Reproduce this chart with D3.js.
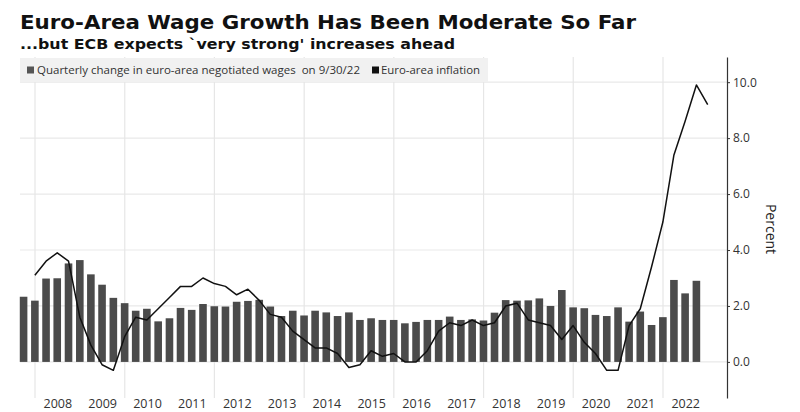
<!DOCTYPE html>
<html>
<head>
<meta charset="utf-8">
<script src="https://cdn.jsdelivr.net/npm/d3@7"></script>
<style>
  html, body { margin: 0; padding: 0; background: #fff; }
  svg { display: block; }
</style>
</head>
<body>
<svg id="chart" width="800" height="412"></svg>
<script>
// ---------------- DATA ----------------
const titleText = "Euro-Area Wage Growth Has Been Moderate So Far";
const subtitleText = "...but ECB expects `very strong' increases ahead";
const legendLabels = ["Quarterly change in euro-area negotiated wages  on 9/30/22", "Euro-area inflation"];

// Bars: quarter-end dates for negotiated wage growth
const wageDates = [
  "2007-09-30","2007-12-31",
  "2008-03-31","2008-06-30","2008-09-30","2008-12-31",
  "2009-03-31","2009-06-30","2009-09-30","2009-12-31",
  "2010-03-31","2010-06-30","2010-09-30","2010-12-31",
  "2011-03-31","2011-06-30","2011-09-30","2011-12-31",
  "2012-03-31","2012-06-30","2012-09-30","2012-12-31",
  "2013-03-31","2013-06-30","2013-09-30","2013-12-31",
  "2014-03-31","2014-06-30","2014-09-30","2014-12-31",
  "2015-03-31","2015-06-30","2015-09-30","2015-12-31",
  "2016-03-31","2016-06-30","2016-09-30","2016-12-31",
  "2017-03-31","2017-06-30","2017-09-30","2017-12-31",
  "2018-03-31","2018-06-30","2018-09-30","2018-12-31",
  "2019-03-31","2019-06-30","2019-09-30","2019-12-31",
  "2020-03-31","2020-06-30","2020-09-30","2020-12-31",
  "2021-03-31","2021-06-30","2021-09-30","2021-12-31",
  "2022-03-31","2022-06-30","2022-09-30"
];
const wageValues = [
  2.33, 2.19,
  2.98, 2.99, 3.52, 3.64,
  3.13, 2.76, 2.29, 2.10,
  1.83, 1.90, 1.45, 1.56,
  1.93, 1.86, 2.07, 1.99,
  1.98, 2.15, 2.18, 2.22,
  1.98, 1.64, 1.83, 1.66,
  1.83, 1.77, 1.64, 1.77,
  1.50, 1.56, 1.50, 1.50,
  1.38, 1.43, 1.50, 1.50,
  1.62, 1.50, 1.52, 1.48,
  1.76, 2.21, 2.19, 2.20,
  2.27, 2.00, 2.57, 1.95,
  1.92, 1.68, 1.64, 1.95,
  1.44, 1.80, 1.32, 1.60,
  2.93, 2.45, 2.90
];

// Line: euro-area inflation, quarter-end readings
const inflationDates = [
  "2007-12-31",
  "2008-03-31","2008-06-30","2008-09-30","2008-12-31",
  "2009-03-31","2009-06-30","2009-09-30","2009-12-31",
  "2010-03-31","2010-06-30","2010-09-30","2010-12-31",
  "2011-03-31","2011-06-30","2011-09-30","2011-12-31",
  "2012-03-31","2012-06-30","2012-09-30","2012-12-31",
  "2013-03-31","2013-06-30","2013-09-30","2013-12-31",
  "2014-03-31","2014-06-30","2014-09-30","2014-12-31",
  "2015-03-31","2015-06-30","2015-09-30","2015-12-31",
  "2016-03-31","2016-06-30","2016-09-30","2016-12-31",
  "2017-03-31","2017-06-30","2017-09-30","2017-12-31",
  "2018-03-31","2018-06-30","2018-09-30","2018-12-31",
  "2019-03-31","2019-06-30","2019-09-30","2019-12-31",
  "2020-03-31","2020-06-30","2020-09-30","2020-12-31",
  "2021-03-31","2021-06-30","2021-09-30","2021-12-31",
  "2022-03-31","2022-06-30","2022-09-30","2022-12-31"
];
const inflationValues = [
  3.1,
  3.6, 3.9, 3.6, 1.6,
  0.6, -0.1, -0.3, 0.9,
  1.6, 1.5, 1.9, 2.3,
  2.7, 2.7, 3.0, 2.8,
  2.7, 2.4, 2.6, 2.2,
  1.7, 1.6, 1.1, 0.8,
  0.5, 0.5, 0.3, -0.2,
  -0.1, 0.4, 0.2, 0.3,
  0.0, 0.0, 0.4, 1.1,
  1.4, 1.3, 1.5, 1.3,
  1.4, 2.0, 2.1, 1.5,
  1.4, 1.3, 0.8, 1.3,
  0.7, 0.3, -0.3, -0.3,
  1.3, 1.9, 3.4, 5.0,
  7.4, 8.6, 9.9, 9.2
];

const yearLabels = ["2008","2009","2010","2011","2012","2013","2014","2015",
                    "2016","2017","2018","2019","2020","2021","2022"];
const gridYears = ["2008","2010","2012","2014","2016","2018","2020","2022"];
const yTicks = [0, 2, 4, 6, 8, 10];
const yAxisTitle = "Percent";

// ---------------- DRAW ----------------
const svg = d3.select("#chart");
const parse = d3.timeParse("%Y-%m-%d");

const x = d3.scaleTime()
  .domain([parse("2008-01-01"), parse("2022-01-01")])
  .range([35, 663]);
const y = d3.scaleLinear()
  .domain([-1.29, 10.9])
  .range([398, 57]);

const plotLeft = 20, plotRight = 727;

// Title & subtitle
svg.append("text")
  .attr("x", 20).attr("y", 29)
  .attr("font-family", "DejaVu Sans, Verdana, sans-serif")
  .attr("font-weight", "bold").attr("font-size", 20)
  .attr("fill", "#111")
  .attr("textLength", 616).attr("lengthAdjust", "spacingAndGlyphs")
  .text(titleText);
svg.append("text")
  .attr("x", 20).attr("y", 48.5)
  .attr("font-family", "DejaVu Sans, Verdana, sans-serif")
  .attr("font-weight", "bold").attr("font-size", 14.5)
  .attr("fill", "#111")
  .attr("textLength", 435).attr("lengthAdjust", "spacingAndGlyphs")
  .text(subtitleText);

// Horizontal gridlines
svg.append("g").selectAll("line")
  .data(yTicks).join("line")
  .attr("x1", plotLeft).attr("x2", plotRight)
  .attr("y1", d => y(d)).attr("y2", d => y(d))
  .attr("stroke", "#e9e9e9").attr("stroke-width", 1.2);

// Vertical gridlines (every two years)
svg.append("g").selectAll("line")
  .data(gridYears).join("line")
  .attr("x1", d => x(parse(d + "-01-01")))
  .attr("x2", d => x(parse(d + "-01-01")))
  .attr("y1", y.range()[1]).attr("y2", y.range()[0])
  .attr("stroke", "#e6e6e6").attr("stroke-width", 1.2);

// Legend band
const legend = svg.append("g");
legend.append("rect")
  .attr("x", 20).attr("y", 58).attr("width", 468).attr("height", 24)
  .attr("fill", "#f1f1f1");
legend.append("rect")
  .attr("x", 27).attr("y", 66.5).attr("width", 7).attr("height", 7)
  .attr("fill", "#555");
legend.append("text")
  .attr("x", 37).attr("y", 73.5)
  .attr("font-family", "Open Sans, Noto Sans, sans-serif")
  .attr("font-size", 10.5).attr("fill", "#333")
  .attr("xml:space", "preserve")
  .attr("textLength", 323).attr("lengthAdjust", "spacingAndGlyphs")
  .text(legendLabels[0]);
legend.append("rect")
  .attr("x", 372).attr("y", 66.5).attr("width", 7).attr("height", 7)
  .attr("fill", "#111");
legend.append("text")
  .attr("x", 381).attr("y", 73.5)
  .attr("font-family", "Open Sans, Noto Sans, sans-serif")
  .attr("font-size", 10.5).attr("fill", "#333")
  .attr("textLength", 99).attr("lengthAdjust", "spacingAndGlyphs")
  .text(legendLabels[1]);

// Bars
const barW = 7.6;
svg.append("g").selectAll("rect")
  .data(wageDates.map((d, i) => ({ date: parse(d), v: wageValues[i] })))
  .join("rect")
  .attr("x", d => x(d.date) - barW / 2)
  .attr("width", barW)
  .attr("y", d => y(Math.max(0, d.v)))
  .attr("height", d => Math.abs(y(d.v) - y(0)))
  .attr("fill", "#4b4b4b");

// Inflation line
const line = d3.line()
  .x(d => x(d.date))
  .y(d => y(d.v));
svg.append("path")
  .datum(inflationDates.map((d, i) => ({ date: parse(d), v: inflationValues[i] })))
  .attr("d", line)
  .attr("fill", "none")
  .attr("stroke", "#111")
  .attr("stroke-width", 1.5)
  .attr("stroke-linejoin", "round");

// Right y axis
const yAxis = d3.axisRight(y)
  .tickValues(yTicks)
  .tickFormat(d3.format(".1f"))
  .tickSizeInner(3).tickSizeOuter(0).tickPadding(3);
const gy = svg.append("g")
  .attr("transform", `translate(${plotRight},0)`)
  .call(yAxis);
gy.select(".domain").attr("stroke", "#333").attr("stroke-width", 1.2);
gy.selectAll(".tick line").attr("stroke", "#333");
gy.selectAll(".tick text")
  .attr("font-family", "Open Sans, Noto Sans, sans-serif")
  .attr("font-size", 12).attr("fill", "#333");

svg.append("text")
  .attr("transform", `translate(771,229) rotate(90)`)
  .attr("text-anchor", "middle")
  .attr("dominant-baseline", "central")
  .attr("font-family", "Open Sans, Noto Sans, sans-serif")
  .attr("font-size", 14).attr("fill", "#222")
  .text(yAxisTitle);

// X axis year labels (centered in each year)
const xAxis = d3.axisBottom(x)
  .tickValues(yearLabels.map(yr => parse(yr + "-07-01")))
  .tickFormat(d3.timeFormat("%Y"))
  .tickSize(0).tickPadding(0);
const gx = svg.append("g")
  .attr("transform", "translate(0,0)")
  .call(xAxis);
gx.select(".domain").remove();
gx.selectAll(".tick text")
  .attr("font-family", "Open Sans, Noto Sans, sans-serif")
  .attr("font-size", 12.5).attr("fill", "#333")
  .attr("dy", null).attr("y", 407.5);
</script>
</body>
</html>
